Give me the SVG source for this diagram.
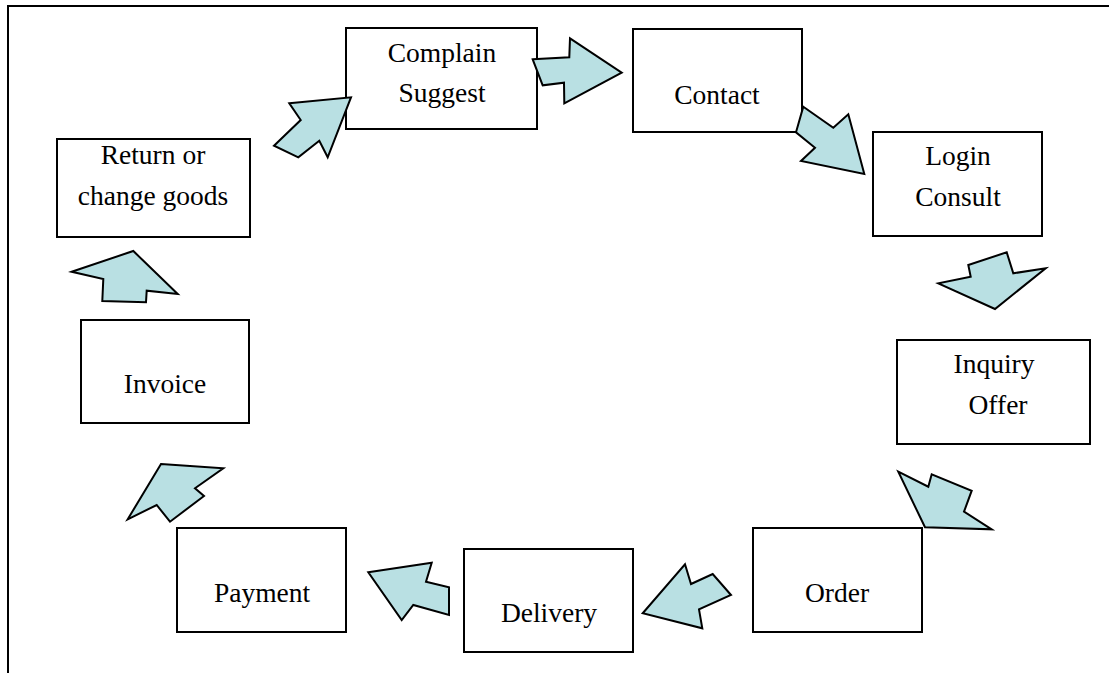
<svg xmlns="http://www.w3.org/2000/svg" width="1109" height="673" viewBox="0 0 1109 673">
<style>
.box{fill:#fff;stroke:#000;stroke-width:2}
.arr{fill:#b9e0e3;stroke:#000;stroke-width:2;stroke-linejoin:miter}
text{font-family:"Liberation Serif","Times New Roman",serif;font-size:27.5px;fill:#000;text-anchor:middle}
</style>
<rect width="1109" height="673" fill="#fff"/>
<polyline points="8,673 8,6 1109,6" fill="none" stroke="#000" stroke-width="2"/>
<g id="n-complain"><rect class="box" x="346" y="28" width="191" height="101"/><text x="442" y="62">Complain</text><text x="442" y="102">Suggest</text></g>
<g id="n-contact"><rect class="box" x="633" y="29" width="169" height="103"/><text x="717" y="104">Contact</text></g>
<g id="n-login"><rect class="box" x="873" y="132" width="169" height="104"/><text x="958" y="165">Login</text><text x="958" y="206">Consult</text></g>
<g id="n-inquiry"><rect class="box" x="897" y="340" width="193" height="104"/><text x="994" y="373">Inquiry</text><text x="998" y="414">Offer</text></g>
<g id="n-order"><rect class="box" x="753" y="528" width="169" height="104"/><text x="837" y="602">Order</text></g>
<g id="n-delivery"><rect class="box" x="464" y="549" width="169" height="103"/><text x="549" y="622">Delivery</text></g>
<g id="n-payment"><rect class="box" x="177" y="528" width="169" height="104"/><text x="262" y="602">Payment</text></g>
<g id="n-invoice"><rect class="box" x="81" y="320" width="168" height="103"/><text x="165" y="393">Invoice</text></g>
<g id="n-return"><rect class="box" x="57" y="139" width="193" height="98"/><text x="153" y="164">Return or</text><text x="153" y="205">change goods</text></g>
<g id="connectors">
<polygon class="arr" points="289.3,103.3 351,97.3 327.7,157.3 319.3,140.7 298.3,157.3 274,145.7 300.7,120"/>
<polygon class="arr" points="532.7,59.3 569.3,57.3 570,38.3 621.7,72.7 564.3,103.3 564,82.7 542.7,85.3"/>
<polygon class="arr" points="803.3,106.7 833.3,127.7 848.3,114.3 864.3,174 801,161 815,147.7 796,132.3"/>
<polygon class="arr" points="968.3,265 1006.7,252.3 1013.3,273.3 1045.7,268.3 995,309 938.3,283.3 970.7,276.7"/>
<polygon class="arr" points="898.3,471.7 928.3,486.7 931.7,474.3 971.7,490.7 964,511.7 991.7,529.3 925,527.3"/>
<polygon class="arr" points="731,595 712.7,574 691,584 685,564.3 642.7,613.3 702.3,628.3 699,609.3"/>
<polygon class="arr" points="368.3,572.3 431.7,562.7 426,581.7 449,587.3 449,615 413.3,605 401.7,620"/>
<polygon class="arr" points="161,464 223.3,468.3 195,488.3 204,496 170,521.7 156.7,505 127.7,519.3"/>
<polygon class="arr" points="71.7,271.7 133.3,251 177.7,294 146.7,290.7 146,302.3 102.3,301 103.3,279"/>
</g>
</svg>
